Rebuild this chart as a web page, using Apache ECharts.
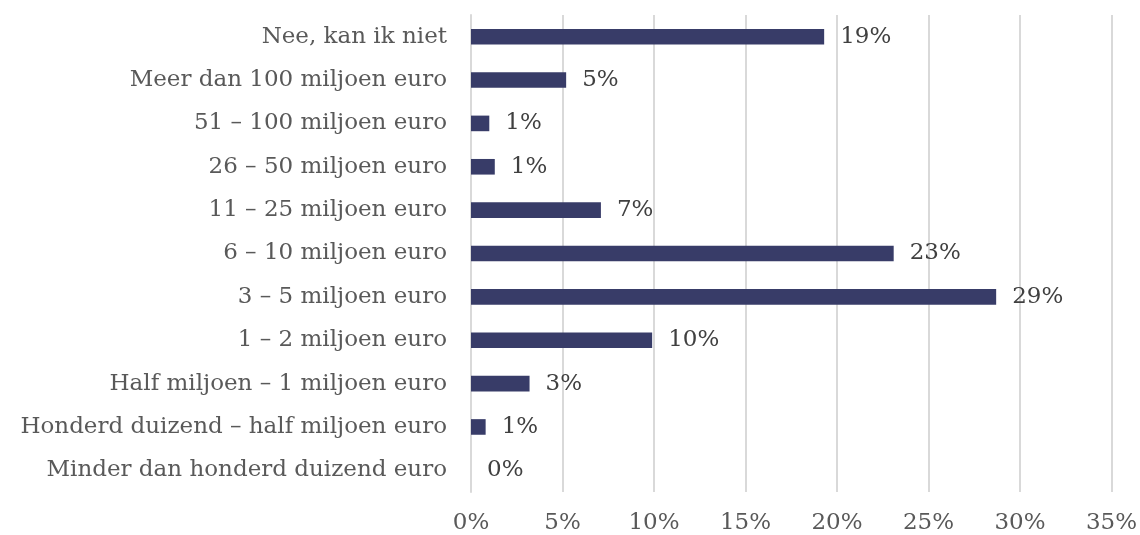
<!DOCTYPE html>
<html>
<head>
<meta charset="utf-8">
<script src="https://cdn.jsdelivr.net/npm/echarts@6/dist/echarts.min.js"></script>
<style>
  html, body { margin: 0; padding: 0; background: #fff; }
  #chart { width: 1140px; height: 535px; }
</style>
</head>
<body>
<div id="chart"></div>
<script>
  // categories bottom to top (as the y axis draws them)
  const categories = [
    'Minder dan honderd duizend euro',
    'Honderd duizend – half miljoen euro',
    'Half miljoen – 1 miljoen euro',
    '1 – 2 miljoen euro',
    '3 – 5 miljoen euro',
    '6 – 10 miljoen euro',
    '11 – 25 miljoen euro',
    '26 – 50 miljoen euro',
    '51 – 100 miljoen euro',
    'Meer dan 100 miljoen euro',
    'Nee, kan ik niet'
  ]
  const values = [0, 0.8, 3.2, 9.9, 28.7, 23.1, 7.1, 1.3, 1.0, 5.2, 19.3]
  const valueLabels = ['0%', '1%', '3%', '10%', '29%', '23%', '7%', '1%', '1%', '5%', '19%']

  const fontFamily = 'DejaVu Serif'

  const chart = echarts.init(document.getElementById('chart'))
  chart.setOption({
    animation: false,
    grid: {
      left: 471,
      right: 26,
      top: 15,
      bottom: 42
    },
    xAxis: {
      type: 'value',
      min: 0,
      max: 35,
      interval: 5,
      axisLine: { show: false },
      axisTick: { show: false },
      splitLine: { lineStyle: { color: '#d9d9d9', width: 2 } },
      axisLabel: {
        formatter: '{value}%',
        color: '#595959',
        fontFamily: fontFamily,
        fontSize: 23,
        margin: 20
      }
    },
    yAxis: {
      type: 'category',
      data: categories,
      axisLine: { lineStyle: { color: '#d9d9d9', width: 2 } },
      axisTick: { show: false },
      axisLabel: {
        color: '#595959',
        fontFamily: fontFamily,
        fontSize: 23,
        margin: 24
      }
    },
    series: [{
      type: 'bar',
      data: values,
      barWidth: '36%',
      itemStyle: { color: '#383c68' },
      label: {
        show: true,
        position: 'right',
        distance: 16,
        color: '#404040',
        fontFamily: fontFamily,
        fontSize: 23,
        formatter: (p) => valueLabels[p.dataIndex]
      }
    }]
  })
</script>
</body>
</html>
